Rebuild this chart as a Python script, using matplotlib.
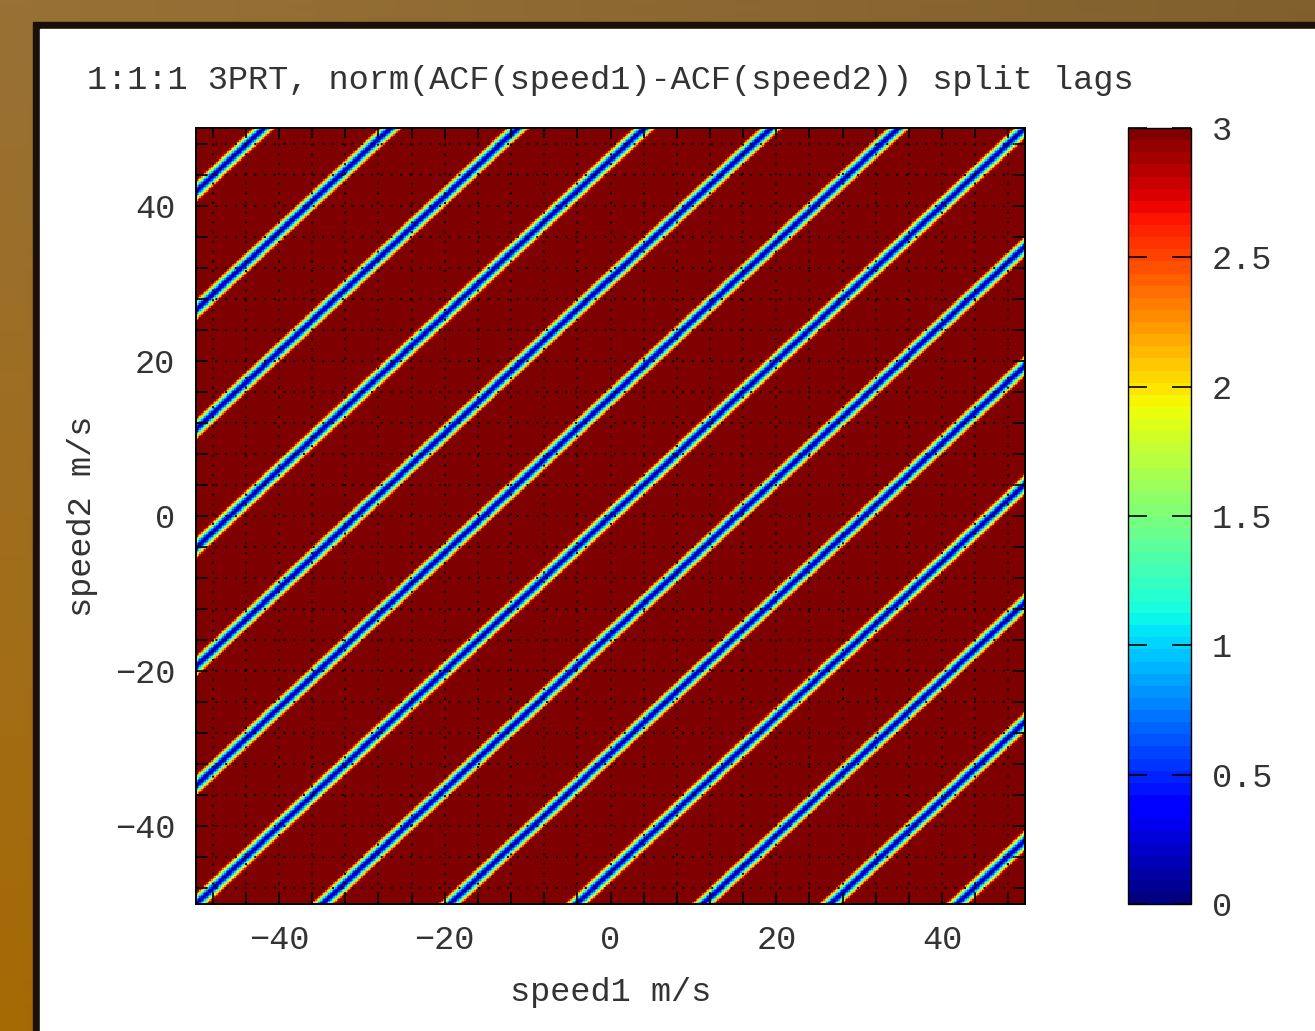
import numpy as np
import matplotlib
matplotlib.use('Agg')
import matplotlib.pyplot as plt
from matplotlib.patches import Rectangle
from matplotlib.ticker import MultipleLocator

plt.rcParams['font.family'] = ['Liberation Mono', 'DejaVu Sans Mono']
plt.rcParams['font.size'] = 24.2
plt.rcParams['axes.titlesize'] = 24.2
plt.rcParams['axes.labelsize'] = 24.2
plt.rcParams['text.color'] = '#333333'
plt.rcParams['axes.labelcolor'] = '#333333'
plt.rcParams['xtick.labelcolor'] = '#333333'
plt.rcParams['ytick.labelcolor'] = '#333333'
plt.rcParams['axes.unicode_minus'] = True

# values
speed = np.arange(-50, 50.01, 0.2)            # m/s, both axes
stripe_offsets = [-92, -76.7, -61.3, -46, -30.7, -15.3, 0,
                  15.3, 30.7, 46, 61.3, 76.7, 92]  # speed2 - speed1 where the norm drops to 0
stripe_halfwidth = 1.5                        # m/s, from 0 up to the clip level
clip_level = 3.0
cbar_ticks = [0, 0.5, 1, 1.5, 2, 2.5, 3]

S1, S2 = np.meshgrid(speed, speed)
diff = S2 - S1
dist = np.min([np.abs(diff - c) for c in stripe_offsets], axis=0)
field = clip_level * np.clip(dist / stripe_halfwidth, 0, 1) ** 1.2

fig = plt.figure(figsize=(13.15, 10.31), dpi=100)

# wooden frame behind the white panel
bg = fig.add_axes([0, 0, 1, 1], zorder=-10)
top_col = np.array([152, 113, 54]) / 255
bot_col = np.array([166, 106, 4]) / 255
t = np.linspace(0, 1, 200)[:, None, None]
grad = top_col * (1 - t) + bot_col * t
grad = np.repeat(grad, 50, axis=1)
shade = np.linspace(1.0, 0.85, 50)[None, :, None]
bg.imshow(grad * shade, aspect='auto', extent=[0, 1, 0, 1], origin='upper')
bg.add_patch(Rectangle((33 / 1315, 0), 1, 1 - 22 / 1031, color='#1a1008'))
bg.add_patch(Rectangle((40 / 1315, 0), 1, 1 - 29 / 1031, color='white'))
bg.set_xlim(0, 1)
bg.set_ylim(0, 1)
bg.axis('off')

ax = fig.add_axes([196 / 1315, 1 - 904 / 1031, 829 / 1315, 776 / 1031])
cmap = plt.get_cmap('jet', 64)
im = ax.imshow(field, extent=[-50, 50, -50, 50], origin='lower', aspect='auto',
               cmap=cmap, vmin=0, vmax=clip_level, interpolation='nearest')

ax.set_xlim(-50, 50)
ax.set_ylim(-50, 50)
ax.xaxis.set_major_locator(MultipleLocator(20))
ax.yaxis.set_major_locator(MultipleLocator(20))
ax.xaxis.set_minor_locator(MultipleLocator(4))
ax.yaxis.set_minor_locator(MultipleLocator(4))
ax.tick_params(which='both', direction='in', top=True, right=True, width=1.2, color='black')
ax.tick_params(which='major', length=8)
ax.tick_params(which='minor', length=7)
ax.tick_params(axis='x', which='major', pad=15)
ax.tick_params(axis='y', which='major', pad=15)
ax.grid(which='both', color='black', linestyle=(0, (1, 4)), linewidth=1.4)
for sp in ax.spines.values():
    sp.set_linewidth(1.4)

ax.set_title('1:1:1 3PRT, norm(ACF(speed1)-ACF(speed2)) split lags', pad=28)
ax.set_xlabel('speed1 m/s', labelpad=15)
ax.set_ylabel('speed2 m/s', labelpad=12)

cax = fig.add_axes([1128 / 1315, 1 - 904 / 1031, 63 / 1315, 776 / 1031])
cb = fig.colorbar(im, cax=cax, ticks=cbar_ticks)
cb.ax.set_yticklabels(['%g' % v for v in cbar_ticks])
cb.outline.set_linewidth(1.0)
cb.ax.tick_params(direction='in', left=True, right=True, length=14, width=1.2, pad=15)

fig.savefig('out.png', dpi=100)
